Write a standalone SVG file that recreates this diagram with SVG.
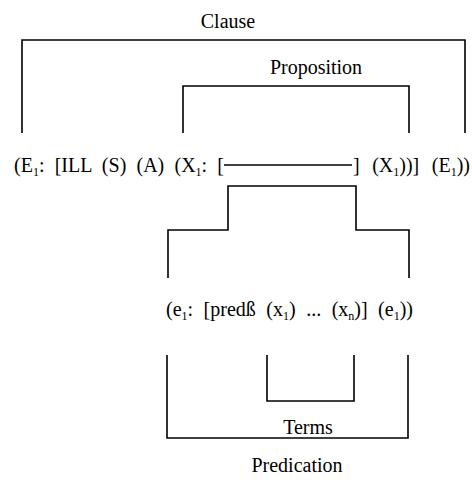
<svg xmlns="http://www.w3.org/2000/svg" width="472" height="482" viewBox="0 0 472 482">
<style>
  .t { font-family: "Liberation Serif", "Times New Roman", serif; font-size: 20px; fill: #000; }
  .s { font-size: 12px; }
  .b { fill: none; stroke: #000; stroke-width: 1.6; }
</style>
<rect width="472" height="482" fill="#fff"/>
<g id="connectors">
  <path id="clause-bracket" class="b" d="M22,133 V40 H465 V133"/>
  <path id="proposition-bracket" class="b" d="M183,133 V86 H409 V133"/>
  <path id="step-bracket" class="b" d="M168,278 V230 H228 V186 H356 V230 H409 V278"/>
  <path id="predication-bracket" class="b" d="M167,355 V438 H408 V355"/>
  <path id="terms-bracket" class="b" d="M267,355 V401 H354 V355"/>
  <path id="blank-line" class="b" d="M224,165 H352"/>
</g>
<g id="clause-label"><text class="t" x="228" y="28" text-anchor="middle">Clause</text></g>
<g id="proposition-label"><text class="t" x="316" y="74" text-anchor="middle">Proposition</text></g>
<g id="clause-formula">
  <text class="t" x="14" y="172" word-spacing="5.2">(E<tspan class="s" dy="4">1</tspan><tspan dy="-4">: [ILL (S) (A) (X</tspan><tspan class="s" dy="4">1</tspan><tspan dy="-4">: [</tspan></text>
  <text class="t" x="353" y="172" word-spacing="7.5">] (X<tspan class="s" dy="4">1</tspan><tspan dy="-4">))] (E</tspan><tspan class="s" dy="4">1</tspan><tspan dy="-4">))</tspan></text>
</g>
<g id="predication-formula">
  <text class="t" x="166" y="316" word-spacing="5.5">(e<tspan class="s" dy="4">1</tspan><tspan dy="-4">: [predß (x</tspan><tspan class="s" dy="4">1</tspan><tspan dy="-4">) ... (x</tspan><tspan class="s" dy="4">n</tspan><tspan dy="-4">)] (e</tspan><tspan class="s" dy="4">1</tspan><tspan dy="-4">))</tspan></text>
</g>
<g id="terms-label"><text class="t" x="308" y="434" text-anchor="middle">Terms</text></g>
<g id="predication-label"><text class="t" x="297" y="472" text-anchor="middle">Predication</text></g>
</svg>
